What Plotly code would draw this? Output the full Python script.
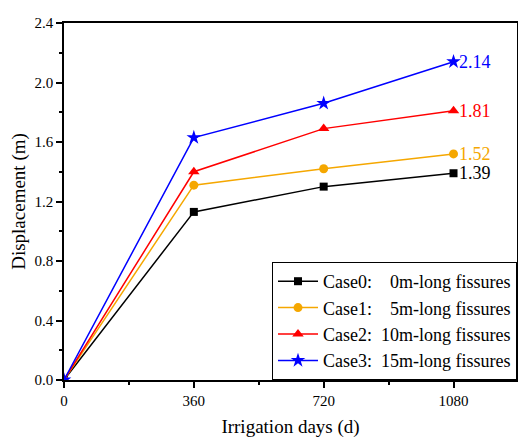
import plotly.graph_objects as go

# irrigation days and displacement (m) per case
days = [0, 360, 720, 1080]
case0 = [0.0, 1.13, 1.30, 1.39]
case1 = [0.0, 1.31, 1.42, 1.52]
case2 = [0.0, 1.40, 1.69, 1.81]
case3 = [0.0, 1.63, 1.86, 2.14]

names = [
    "Case0:\u2002\u00a0\u00a00m-long fissures",
    "Case1:\u2002\u00a0\u00a05m-long fissures",
    "Case2:\u00a0\u00a010m-long fissures",
    "Case3:\u00a0\u00a015m-long fissures",
]
colors = ["#000000", "#F5A700", "#FF0000", "#0000FF"]
symbols = ["square", "circle", "triangle-up", "star"]
sizes = [8, 9, 10, 11]
FONT = "Liberation Serif"

fig = go.Figure()
for ys, name, c, s, sz in zip([case0, case1, case2, case3], names, colors, symbols, sizes):
    fig.add_trace(go.Scatter(
        x=days, y=ys, name=name, mode="lines+markers",
        line=dict(color=c, width=1.5),
        marker=dict(color=c, symbol=s, size=sz),
    ))
    # end value label
    fig.add_annotation(x=days[-1], y=ys[-1], text=f"{ys[-1]:.2f}", showarrow=False,
                       xanchor="left", xshift=3, font=dict(family=FONT, size=18, color=c))

axis_common = dict(
    showline=True, linecolor="black", linewidth=1.5, mirror=True,
    ticks="outside", ticklen=6, tickwidth=1.5, tickcolor="black",
    showgrid=False, zeroline=False,
    tickfont=dict(family=FONT, size=15, color="black"),
)
fig.update_xaxes(axis_common, range=[0, 1256], tickvals=days,
                 minor=dict(ticks="outside", dtick=180, tick0=0, ticklen=3, tickwidth=1.5, tickcolor="black"),
                 title=dict(text="Irrigation days (d)", font=dict(family=FONT, size=19, color="black"), standoff=12))
fig.update_yaxes(axis_common, range=[0, 2.4], dtick=0.4, tickformat=".1f",
                 minor=dict(ticks="outside", dtick=0.2, tick0=0, ticklen=3, tickwidth=1.5, tickcolor="black"),
                 title=dict(text="Displacement (m)", font=dict(family=FONT, size=19, color="black"), standoff=6))

# page body has an 8px margin, so the figure is 8px smaller than the window
fig.update_layout(
    width=518, height=440,
    margin=dict(l=55, r=9, t=7, b=68),
    plot_bgcolor="white", paper_bgcolor="white",
    font=dict(family=FONT, color="black"),
    legend=dict(x=1, y=0, xanchor="right", yanchor="bottom",
                bordercolor="black", borderwidth=1, bgcolor="white",
                font=dict(family=FONT, size=18, color="black"),
                tracegroupgap=0, itemwidth=40),
    showlegend=True,
)

fig.write_html("out.html")
